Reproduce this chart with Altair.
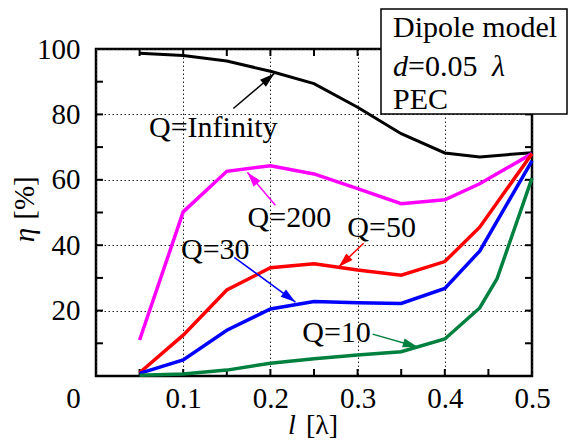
import math
import altair as alt
import pandas as pd

# ---------------- data ----------------
l_main = [0.05, 0.1, 0.15, 0.2, 0.25, 0.3, 0.35, 0.4, 0.44, 0.5]
eta_inf = [98.7, 98.0, 96.3, 93.2, 89.4, 82.2, 74.1, 68.2, 67.0, 68.3]
eta_q200 = [11.0, 50.2, 62.6, 64.3, 61.8, 57.3, 52.7, 53.9, 58.8, 68.0]
eta_q50 = [1.0, 12.5, 26.3, 33.1, 34.3, 32.4, 30.8, 35.0, 45.5, 68.0]
eta_q30 = [0.8, 4.9, 14.0, 20.5, 22.8, 22.4, 22.2, 26.8, 38.2, 65.8]
l_q10 = [0.05, 0.1, 0.15, 0.2, 0.25, 0.3, 0.35, 0.4, 0.44, 0.46, 0.5]
eta_q10 = [0.2, 0.6, 1.8, 3.9, 5.3, 6.4, 7.4, 11.3, 20.8, 29.8, 60.5]

series_names = ["Q=Infinity", "Q=200", "Q=50", "Q=30", "Q=10"]
series_l = [l_main, l_main, l_main, l_main, l_q10]
series_eta = [eta_inf, eta_q200, eta_q50, eta_q30, eta_q10]
series_colors = ["#000000", "#ff00ff", "#ff0000", "#0000ff", "#00803f"]
series_widths = [3, 3.5, 3.5, 3.5, 3.5]

# label anchor (text centre) and arrow tail/head, in data units
label_text = ["Q=Infinity", "Q=200", "Q=50", "Q=30", "Q=10"]
label_l = [0.1345, 0.2218, 0.3276, 0.1368, 0.2759]
label_eta = [75.7, 48.2, 45.2, 38.5, 13.1]
arrow_l0 = [0.1575, 0.2057, 0.3069, 0.1586, 0.3172]
arrow_eta0 = [81.8, 52.2, 40.6, 36.3, 12.8]
arrow_l1 = [0.2046, 0.1736, 0.2782, 0.2287, 0.3690]
arrow_eta1 = [92.5, 62.3, 33.3, 22.6, 8.85]

x_tick_labels = [0, 0.1, 0.2, 0.3, 0.4, 0.5]
y_tick_labels = [20, 40, 60, 80, 100]
x_minor = [0.05, 0.1, 0.15, 0.2, 0.25, 0.3, 0.35, 0.4, 0.45]
y_minor = [10, 20, 30, 40, 50, 60, 70, 80, 90]

# ---------------- layout ----------------
W, H = 436, 327
FONT = "Liberation Serif"
FS = 29
FA = 30
XD = [0, 0.5]
YD = [0, 100]

xs = alt.Scale(domain=XD, nice=False, zero=False)
ys = alt.Scale(domain=YD, nice=False, zero=False)

x_axis = alt.Axis(
    values=x_tick_labels, title=None, ticks=False, tickSize=0, domain=False,
    labelFont=FONT, labelFontSize=FS, labelColor="black", labelPadding=8,
    labelFlush=False, labelOverlap=False,
    labelExpr="datum.value === 0 ? '0' : format(datum.value, '.1f')",
    labelOffset={"condition": {"test": "datum.value === 0", "value": -23}, "value": 0},
    grid=True, gridColor="#222222", gridDash=[1.5, 2.5], gridWidth=1,
)
y_axis = alt.Axis(
    values=y_tick_labels, title=None, ticks=False, tickSize=0, domain=False,
    labelFont=FONT, labelFontSize=FS, labelColor="black", labelPadding=16,
    labelOverlap=False,
    grid=True, gridColor="#222222", gridDash=[1.5, 2.5], gridWidth=1,
)

dummy = pd.DataFrame({"a": [0]})

# grid / axes base
base = alt.Chart(pd.DataFrame({"l": [0.0], "eta": [0.0]})).mark_point(opacity=0).encode(
    x=alt.X("l:Q", scale=xs, axis=x_axis),
    y=alt.Y("eta:Q", scale=ys, axis=y_axis),
)

layers = [base]

# inward ticks on all four sides
TL = 7
xt = pd.DataFrame({"t": x_minor})
yt = pd.DataFrame({"t": y_minor})
layers.append(alt.Chart(xt).mark_rule(color="black", strokeWidth=2).encode(
    x=alt.X("t:Q", scale=xs), y=alt.value(0), y2=alt.value(TL)))
layers.append(alt.Chart(xt).mark_rule(color="black", strokeWidth=2).encode(
    x=alt.X("t:Q", scale=xs), y=alt.value(H - TL), y2=alt.value(H)))
layers.append(alt.Chart(yt).mark_rule(color="black", strokeWidth=2).encode(
    y=alt.Y("t:Q", scale=ys), x=alt.value(0), x2=alt.value(TL)))
layers.append(alt.Chart(yt).mark_rule(color="black", strokeWidth=2).encode(
    y=alt.Y("t:Q", scale=ys), x=alt.value(W - TL), x2=alt.value(W)))

# data lines
for name, lv, ev, col, sw in zip(series_names, series_l, series_eta, series_colors, series_widths):
    df = pd.DataFrame({"l": lv, "eta": ev, "series": name})
    layers.append(
        alt.Chart(df).mark_line(color=col, strokeWidth=sw, strokeJoin="miter").encode(
            x=alt.X("l:Q", scale=xs), y=alt.Y("eta:Q", scale=ys)
        )
    )

# annotations
px_x = W / (XD[1] - XD[0])
px_y = H / (YD[1] - YD[0])
angles = []
for a0, e0, a1, e1 in zip(arrow_l0, arrow_eta0, arrow_l1, arrow_eta1):
    dx = (a1 - a0) * px_x
    dy = -(e1 - e0) * px_y
    angles.append(math.degrees(math.atan2(dx, -dy)) % 360)

ann = pd.DataFrame({
    "label": label_text, "tl": label_l, "te": label_eta,
    "a0": arrow_l0, "e0": arrow_eta0, "a1": arrow_l1, "e1": arrow_eta1,
    "ang": angles, "col": series_colors,
})

layers.append(alt.Chart(ann).mark_rule(strokeWidth=1.5).encode(
    x=alt.X("a0:Q", scale=xs), y=alt.Y("e0:Q", scale=ys),
    x2="a1:Q", y2="e1:Q",
    color=alt.Color("col:N", scale=None),
))
head_path = "M0,0L-0.3,1L0.3,1Z"
layers.append(alt.Chart(ann).mark_point(shape=head_path, filled=True, size=900, opacity=1, strokeWidth=0).encode(
    x=alt.X("a1:Q", scale=xs), y=alt.Y("e1:Q", scale=ys),
    angle=alt.Angle("ang:Q", scale=None),
    color=alt.Color("col:N", scale=None),
))
layers.append(alt.Chart(ann).mark_text(font=FONT, fontSize=FA, color="black",
                                       align="center", baseline="middle").encode(
    x=alt.X("tl:Q", scale=xs), y=alt.Y("te:Q", scale=ys), text="label:N",
))

# info box
layers.append(alt.Chart(dummy).mark_rect(fill="white", stroke="black", strokeWidth=1.5).encode(
    x=alt.value(285), x2=alt.value(471), y=alt.value(-40), y2=alt.value(65)))


def txt(t, x, y, style=None, align="left", angle=0, size=FA):
    kw = dict(text=t, font=FONT, fontSize=size, color="black", align=align,
              baseline="middle")
    if style:
        kw["fontStyle"] = style
    if angle:
        kw["angle"] = angle
    return alt.Chart(dummy).mark_text(**kw).encode(x=alt.value(x), y=alt.value(y))


layers += [
    txt("Dipole model", 297, -21),
    txt("d", 297, 18, "italic"),
    txt("=0.05", 312, 18),
    txt("λ", 396, 18, "italic"),
    txt("PEC", 297, 51),
    # axis titles
    txt("η", -71, 186, "italic", "center", 270, FS),
    txt("[%]", -71, 149, None, "center", 270, FS),
    txt("l", 196, 377, "italic", "center", 0, 28),
    txt("[λ]", 226, 377, None, "center", 0, 28),
]

chart = alt.layer(*layers).properties(
    width=W, height=H,
    autosize=alt.AutoSizeParams(type="none"),
    padding={"left": 88, "top": 41, "right": 36, "bottom": 64},
).configure(background="white").configure_view(stroke="black", strokeWidth=2.5)

chart.save("out.html", embed_options={"renderer": "svg", "actions": False})
